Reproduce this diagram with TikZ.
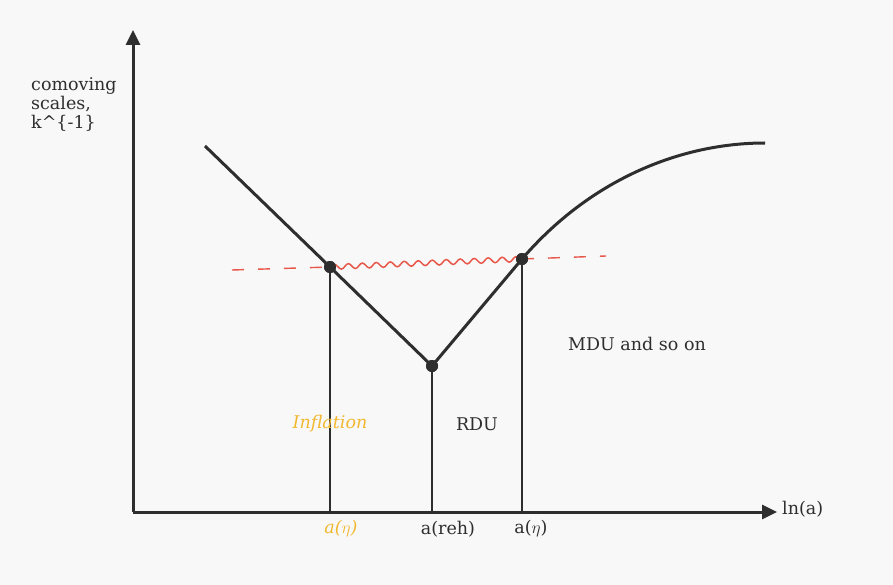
\documentclass[tikz,border=0pt]{standalone}
\usepackage{fontspec}
\setmainfont{DejaVu Serif}
\usetikzlibrary{arrows.meta,decorations.pathmorphing}
\definecolor{ink}{HTML}{2E2E2E}
\definecolor{wave}{HTML}{E8584A}
\definecolor{infl}{HTML}{F2B830}
\definecolor{bg}{HTML}{F8F8F8}
\tikzset{
  axis/.style={line width=3pt, draw=ink, -{Triangle[length=15pt,width=14pt]}},
  curve/.style={line width=3pt, draw=ink},
  drop/.style={line width=2.6pt, draw=ink},
  pt/.style={circle, fill=ink, inner sep=0pt, minimum size=12pt},
  lbl/.style={font=\fontsize{17.5}{19}\selectfont, text=ink, inner sep=1pt},
  redd/.style={draw=wave, line width=1.4pt, dash pattern=on 12pt off 14pt},
  redw/.style={draw=wave, line width=1.5pt, decorate, decoration={snake, amplitude=2.6pt, segment length=14pt}}
}
\begin{document}
\begin{tikzpicture}[x=1pt,y=-1pt]
\fill[bg] (0,0) rectangle (893,585);
\useasboundingbox (0,0) rectangle (893,585);
% axes
\coordinate (O) at (133,512);
\coordinate (ytop) at (133,30);
\coordinate (xend) at (777,512);
\draw[axis] (O) -- (ytop);
\draw[axis] (O) -- (xend);
% points
\node[pt] (p1) at (330,267) {};
\node[pt] (p2) at (432,366) {};
\node[pt] (p3) at (522,259) {};
\coordinate (s) at (205,146);
\coordinate (e) at (765,143);
\coordinate (f1) at (330,512);
\coordinate (f2) at (432,512);
\coordinate (f3) at (522,512);
\coordinate (r0) at (232,270);
\coordinate (r3) at (606,256);
% red line
\draw[redd] (r0) -- (p1.center);
\draw[redd] (p3.center) -- (r3);
\draw[redw] (p1.center) -- (p3.center);
% curve
\draw[curve] (s) -- (p1.center) -- (p2.center) -- (p3.center) .. controls (590,180) and (680,143) .. (e);
% drops
\draw[drop] (p1.center) -- (f1);
\draw[drop] (p2.center) -- (f2);
\draw[drop] (p3.center) -- (f3);
\node[pt] at (p1) {};
\node[pt] at (p2) {};
\node[pt] at (p3) {};
% labels
\node[lbl, align=left, anchor=north west, font=\fontsize{17.5}{19}\selectfont] (ylab) at (30,76) {comoving\\scales,\\k\textasciicircum\{-1\}};
\node[lbl, anchor=west] (xlab) at (781,509) {ln(a)};
\node[lbl, text=infl, font=\fontsize{17.5}{19}\selectfont\itshape] (inf) at (330,424) {Inflation};
\node[lbl] (rdu) at (477,424) {RDU};
\node[lbl] (mdu) at (637,344) {MDU and so on};
\node[lbl, text=infl, font=\fontsize{17.5}{19}\selectfont\itshape] (t1) at (341,529) {a($\eta$)};
\node[lbl] (t2) at (448,529) {a(reh)};
\node[lbl] (t3) at (531,529) {a($\eta$)};
\end{tikzpicture}
\end{document}
